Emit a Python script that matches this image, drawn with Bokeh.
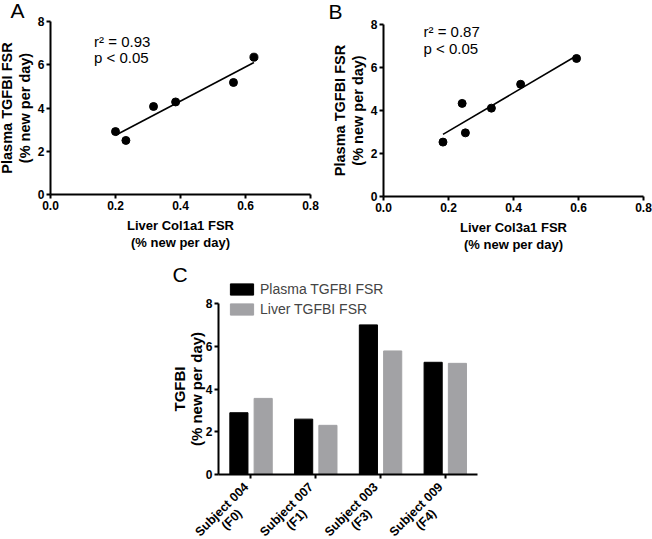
import numpy as np
from math import pi
from bokeh.plotting import figure
from bokeh.core.properties import value
from bokeh.models import (Range1d, FixedTicker, Label, LabelSet, ColumnDataSource,
                          Legend, LegendItem, NumeralTickFormatter)
from bokeh.layouts import column, row
from bokeh.transform import dodge
from bokeh.embed import file_html
from bokeh.resources import INLINE

# ---------------- data ----------------
col1a1_fsr = [0.200, 0.232, 0.317, 0.385, 0.563, 0.626]
plasma_fsr_a = [2.91, 2.50, 4.07, 4.28, 5.18, 6.35]
col3a1_fsr = [0.183, 0.242, 0.252, 0.332, 0.422, 0.594]
plasma_fsr_b = [2.53, 4.33, 2.96, 4.11, 5.22, 6.42]

subjects = ["Subject 004", "Subject 007", "Subject 003", "Subject 009"]
stages = ["F0", "F1", "F3", "F4"]
plasma_tgfbi = [2.89, 2.59, 7.00, 5.25]
liver_tgfbi = [3.56, 2.30, 5.78, 5.20]

x_ticks = [0.0, 0.2, 0.4, 0.6, 0.8]
y_ticks = [0, 2, 4, 6, 8]

FONT = "Liberation Sans"
GRAY = "#a2a2a5"
ROW_H = 255


def frame_range(v0, p0, v1, p1, lo_px, hi_px):
    """Range whose ends fall on pixels lo_px/hi_px when v0 sits at p0 and v1 at p1."""
    k = (v1 - v0) / (p1 - p0)
    a = v0 + (lo_px - p0) * k
    b = v0 + (hi_px - p0) * k
    return Range1d(min(a, b), max(a, b))


def style(p):
    for ax in p.axis:
        ax.axis_line_width = 2
        ax.axis_line_color = "black"
        ax.major_tick_line_width = 2
        ax.major_tick_line_color = "black"
        ax.major_tick_out = 4
        ax.major_tick_in = 0
        ax.minor_tick_line_color = None
        ax.major_label_text_font = FONT
        ax.major_label_text_font_style = "bold"
        ax.major_label_text_font_size = "12px"
        ax.major_label_text_color = "black"
        ax.major_label_standoff = 2
        ax.axis_label_text_font = FONT
        ax.axis_label_text_font_style = "bold"
        ax.axis_label_text_color = "black"
    p.grid.visible = False
    p.outline_line_color = None
    p.background_fill_color = "white"
    p.border_fill_color = "white"


def scatter_panel(xs, ys, xlabel, letter, r2txt, left, width, x0px, x8px, y0px, y8px,
                  letter_xy, stat_x, stat_y1, stat_y2):
    top, height = 0, ROW_H
    p = figure(width=width, height=height,
               x_range=frame_range(0, x0px, 0.8, x8px, left, left + width),
               y_range=frame_range(0, y0px, 8, y8px, top, top + height),
               output_backend="svg", toolbar_location=None, min_border=0)
    p.scatter(xs, ys, size=8, color="black")
    k, b = np.polyfit(xs, ys, 1)
    xx = np.array([min(xs), max(xs)])
    p.line(xx, k * xx + b, line_color="black", line_width=1.6)
    style(p)
    p.xaxis.fixed_location = 0
    p.yaxis.fixed_location = 0
    p.xaxis.bounds = (0, 0.8)
    p.yaxis.bounds = (0, 8)
    p.xaxis.ticker = FixedTicker(ticks=x_ticks)
    p.xaxis.formatter = NumeralTickFormatter(format="0.0")
    p.yaxis.ticker = FixedTicker(ticks=y_ticks)
    p.xaxis.axis_label = xlabel + "\n(% new per day)"
    p.xaxis.axis_label_text_font_size = "13px"
    p.xaxis.axis_label_standoff = 5
    p.xaxis.axis_label_text_line_height = 1.15
    p.yaxis.axis_label = "Plasma TGFBI FSR\n(% new per day)"
    p.yaxis.axis_label_text_font_size = "14.5px"
    p.yaxis.axis_label_standoff = 2
    p.yaxis.axis_label_text_line_height = 1.1
    p.add_layout(Label(x=letter_xy[0], y=letter_xy[1], text=letter, text_font=FONT,
                       text_font_size="21px", text_color="black"))
    p.add_layout(Label(x=stat_x, y=stat_y1, text=r2txt, text_font=FONT,
                       text_font_size="15px", text_color="black"))
    p.add_layout(Label(x=stat_x, y=stat_y2, text="p < 0.05", text_font=FONT,
                       text_font_size="15px", text_color="black"))
    return p


pA = scatter_panel(col1a1_fsr, plasma_fsr_a, "Liver Col1a1 FSR", "A", "r\u00b2 = 0.93",
                   0, 320, 50, 310, 194, 21, (-0.123, 7.98), 0.134, 6.67, 5.93)
pB = scatter_panel(col3a1_fsr, plasma_fsr_b, "Liver Col3a1 FSR", "B", "r\u00b2 = 0.87",
                   320, 332, 383, 643, 196, 24, (-0.169, 8.08), 0.123, 7.30, 6.47)

# ---------------- panel C ----------------
centers = list(range(len(subjects)))
src = ColumnDataSource(dict(center=centers, plasma=plasma_tgfbi, liver=liver_tgfbi,
                            top_label=subjects, bot_label=["(" + s + ")" for s in stages]))

c_left, c_top, c_w, c_h = 0, ROW_H, 500, 539 - ROW_H
pC = figure(width=c_w, height=c_h,
            x_range=frame_range(-0.5, 218, len(subjects) - 0.5, 477, c_left, c_left + c_w),
            y_range=frame_range(0, 474, 8, 303, c_top, c_top + c_h),
            output_backend="svg", toolbar_location=None, min_border=0)
r1 = pC.vbar(x=dodge("center", -0.185), top="plasma", width=0.28, source=src,
             fill_color="black", line_color="black")
r2 = pC.vbar(x=dodge("center", 0.19), top="liver", width=0.28, source=src,
             fill_color=GRAY, line_color=GRAY)
style(pC)
pC.yaxis.fixed_location = -0.5
pC.yaxis.bounds = (0, 8)
pC.yaxis.ticker = FixedTicker(ticks=y_ticks)
pC.yaxis.axis_label = "TGFBI\n(% new per day)"
pC.yaxis.axis_label_text_font_size = "15px"
pC.yaxis.axis_label_standoff = -2
pC.yaxis.axis_label_text_line_height = 1.0
pC.xaxis.fixed_location = 0
pC.xaxis.bounds = (-0.5, len(subjects) - 0.5)
pC.xaxis.ticker = FixedTicker(ticks=centers)
pC.xaxis.major_label_overrides = {c: "" for c in centers}

lab_style = dict(source=src, angle=pi / 4, text_align="center", text_baseline="middle",
                 text_font=value(FONT), text_font_style="bold", text_font_size="12.5px",
                 text_color="black")
pC.add_layout(LabelSet(x="center", y=0, text="top_label", x_offset=-29, y_offset=-35,
                       **lab_style))
pC.add_layout(LabelSet(x="center", y=0, text="bot_label", x_offset=-19, y_offset=-45,
                       **lab_style))
pC.add_layout(Label(x=-1.21, y=8.84, text="C", text_font=FONT, text_font_size="21px",
                    text_color="black"))

legend = Legend(items=[LegendItem(label="Plasma TGFBI FSR", renderers=[r1]),
                       LegendItem(label="Liver TGFBI FSR", renderers=[r2])],
                location=(227, 222), padding=0, margin=0, spacing=4,
                glyph_width=29, glyph_height=14, label_height=14, label_standoff=4,
                label_text_font=FONT, label_text_font_size="14px",
                border_line_color=None, background_fill_alpha=0)
pC.add_layout(legend)

layout = column(row(pA, pB), pC)
open("out.html", "w").write(file_html(layout, INLINE))
